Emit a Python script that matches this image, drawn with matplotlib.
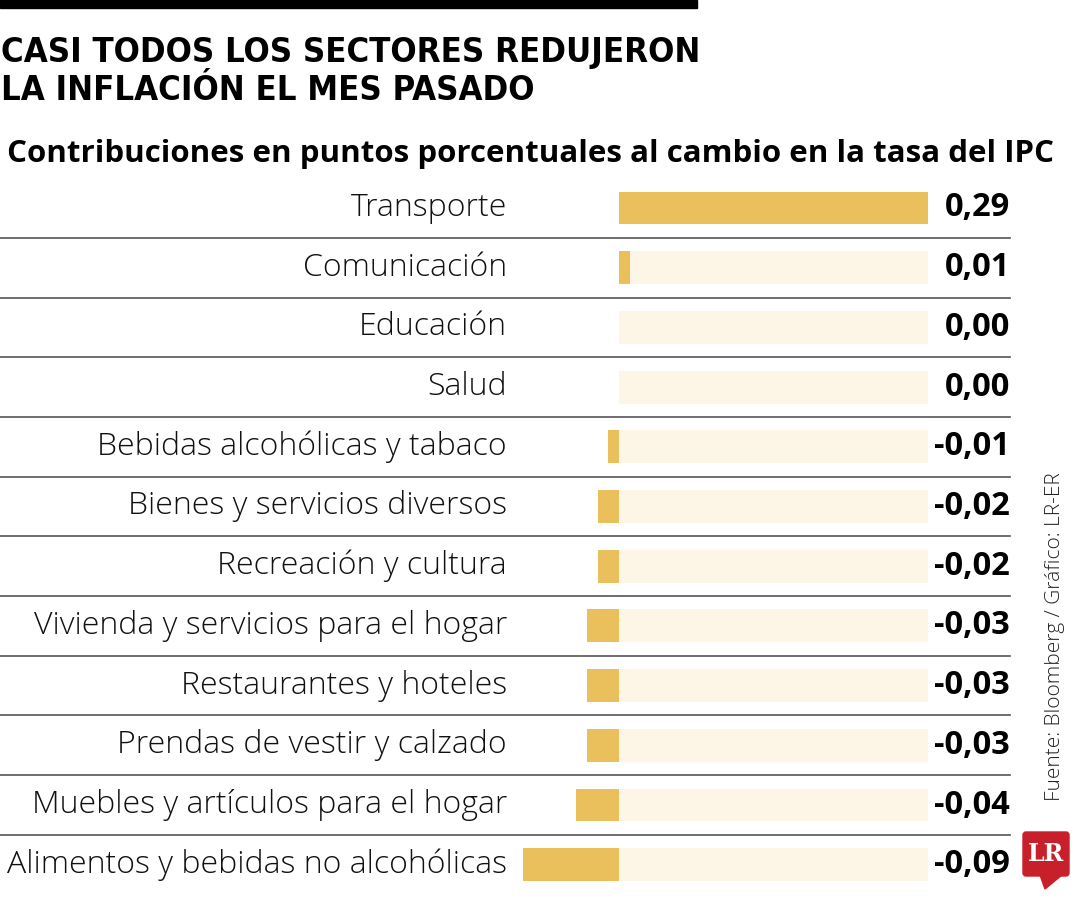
import matplotlib
matplotlib.use("Agg")
import matplotlib.pyplot as plt
import matplotlib.patches as mpatches

sectores = [
    "Transporte",
    "Comunicación",
    "Educación",
    "Salud",
    "Bebidas alcohólicas y tabaco",
    "Bienes y servicios diversos",
    "Recreación y cultura",
    "Vivienda y servicios para el hogar",
    "Restaurantes y hoteles",
    "Prendas de vestir y calzado",
    "Muebles y artículos para el hogar",
    "Alimentos y bebidas no alcohólicas",
]
valores = [0.29, 0.01, 0.00, 0.00, -0.01, -0.02, -0.02, -0.03, -0.03, -0.03, -0.04, -0.09]
etiquetas = ["0,29", "0,01", "0,00", "0,00", "-0,01", "-0,02", "-0,02", "-0,03",
             "-0,03", "-0,03", "-0,04", "-0,09"]

titulo = ["CASI TODOS LOS SECTORES REDUJERON", "LA INFLACIÓN EL MES PASADO"]
subtitulo = "Contribuciones en puntos porcentuales al cambio en la tasa del IPC"
fuente = "Fuente: Bloomberg / Gráfico: LR-ER"

ORO = "#E9C05C"
CREMA = "#FDF5E6"

W, H = 1080, 900
fig = plt.figure(figsize=(W / 100, H / 100), dpi=100)

# pixel scale for the bars: zero at x=619, 0.29 at x=928
x0, x1 = 619, 928
k = (x1 - x0) / max(valores)
row0, paso = 208, 59.7

ax = fig.add_axes([0, 0, 1, 1])
ax.set_xlim(-x0 / k, (W - x0) / k)
ax.set_ylim((H - row0) / paso, -row0 / paso)
ax.axis("off")

ys = list(range(len(sectores)))
ax.barh(ys, [max(valores)] * len(ys), height=0.55, color=CREMA, zorder=1)
ax.barh(ys, valores, height=0.55, color=ORO, zorder=2)

# overlay in pixel coordinates for the text and decorations
ov = fig.add_axes([0, 0, 1, 1], facecolor="none")
ov.set_xlim(0, W)
ov.set_ylim(H, 0)
ov.axis("off")

ov.add_patch(mpatches.Rectangle((0, 0), 697, 8, color="black"))
for linea, base in zip(titulo, [62, 100]):
    ov.text(1, base, linea, ha="left", va="baseline", fontsize=24.8,
            fontweight="bold", family="DejaVu Sans", fontstretch="condensed")
ov.text(7, 154, subtitulo, ha="left", va="center", fontsize=22.5,
        fontweight="bold", family="Open Sans")

for i, (s, e) in enumerate(zip(sectores, etiquetas)):
    y = row0 + paso * i
    ov.text(507, y, s, ha="right", va="center", fontsize=23,
            family="Open Sans", fontweight="light", color="#111111")
    ov.text(1010, y, e, ha="right", va="center", fontsize=23.5,
            family="Open Sans", fontweight="bold", color="black")
    if i < len(sectores) - 1:
        ov.plot([0, 1010], [y + paso / 2] * 2, color="#555555", lw=1.2)

ov.text(1055, 637, fuente, rotation=90, ha="center", va="center",
        fontsize=15, family="Open Sans", fontweight="light", color="#222222")

# LR logo
rojo = "#C8202A"
ov.add_patch(mpatches.FancyBboxPatch((1023, 832), 46, 44,
             boxstyle="round,pad=0,rounding_size=3", color=rojo))
ov.add_patch(mpatches.Polygon([[1040, 875], [1062, 875], [1045, 889]], color=rojo))
ov.text(1046, 854, "LR", ha="center", va="center", color="white",
        fontsize=17, fontweight="bold", family="DejaVu Serif")

fig.savefig("out.png", dpi=100)
